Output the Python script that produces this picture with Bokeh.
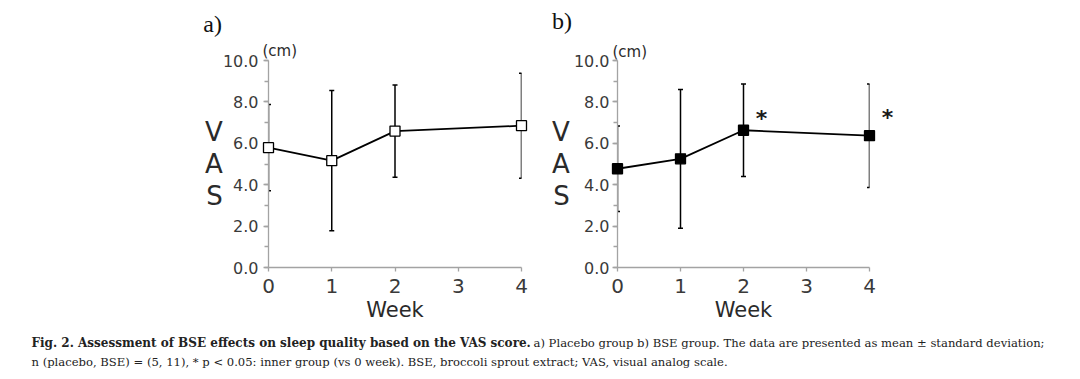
from bokeh.plotting import figure
from bokeh.layouts import column, row
from bokeh.models import (Range1d, FixedTicker, SingleIntervalTicker, NumeralTickFormatter,
                          Whisker, TeeHead, ColumnDataSource)
from bokeh.core.properties import value
from bokeh.embed import file_html
from bokeh.resources import INLINE

# ---- data ----
weeks = [0, 1, 2, 4]
x_ticks = [0, 1, 2, 3, 4]
placebo_mean = [5.79, 5.16, 6.59, 6.85]
placebo_sd = [2.08, 3.39, 2.23, 2.54]
bse_mean = [4.77, 5.25, 6.63, 6.37]
bse_sd = [2.07, 3.35, 2.23, 2.50]
bse_sig_weeks = [2, 4]

caption_bold = "Fig. 2.  Assessment of BSE effects on sleep quality based on the VAS score."
caption_rest = "a) Placebo group b) BSE group. The data are presented as mean \u00b1 standard deviation;"
caption_line2 = ("n (placebo, BSE) = (5, 11), * p < 0.05: inner group (vs 0 week). "
                 "BSE, broccoli sprout extract; VAS, visual analog scale.")

AXIS_GRAY = "#a3a3a3"
TEXT_GRAY = "#3a3a3a"


def panel(tag, mean, sd, filled, width, height, mb_left, mb_right, mb_top, mb_bottom,
          tick_standoff, label_standoff, tag_xy, cm_off, sig=None):
    p = figure(width=width, height=height, x_range=Range1d(0, 4), y_range=Range1d(0, 10),
               output_backend="svg", toolbar_location=None)
    p.min_border_left = mb_left
    p.min_border_right = mb_right
    p.min_border_top = mb_top
    p.min_border_bottom = mb_bottom
    p.grid.visible = False
    p.outline_line_color = None
    p.background_fill_color = "white"
    p.border_fill_color = "white"

    # x axis
    xa = p.xaxis[0]
    xa.ticker = FixedTicker(ticks=x_ticks)
    xa.axis_line_color = AXIS_GRAY
    xa.axis_line_width = 1.3
    xa.major_tick_line_color = AXIS_GRAY
    xa.major_tick_line_width = 1.3
    xa.major_tick_in = 0
    xa.major_tick_out = 4
    xa.minor_tick_line_color = None
    xa.major_label_text_font = "DejaVu Sans"
    xa.major_label_text_font_size = "20px"
    xa.major_label_text_color = TEXT_GRAY
    xa.major_label_standoff = 7
    xa.axis_label = "Week"
    xa.axis_label_text_font = "DejaVu Sans"
    xa.axis_label_text_font_size = "21px"
    xa.axis_label_text_font_style = "normal"
    xa.axis_label_text_color = "#2a2a2a"
    xa.axis_label_standoff = 2

    # y axis
    ya = p.yaxis[0]
    ya.ticker = SingleIntervalTicker(interval=2, num_minor_ticks=2)
    ya.formatter = NumeralTickFormatter(format="0.0")
    ya.axis_line_color = AXIS_GRAY
    ya.axis_line_width = 1.3
    ya.major_tick_line_color = AXIS_GRAY
    ya.major_tick_line_width = 1.3
    ya.minor_tick_line_color = AXIS_GRAY
    ya.minor_tick_line_width = 1.3
    ya.major_tick_in = 0
    ya.major_tick_out = 5
    ya.minor_tick_in = 0
    ya.minor_tick_out = 4
    ya.major_label_text_font = "DejaVu Sans"
    ya.major_label_text_font_size = "16px"
    ya.major_label_text_color = TEXT_GRAY
    ya.major_label_standoff = tick_standoff
    ya.axis_label = "V\nA\nS"
    ya.axis_label_orientation = "horizontal"
    ya.axis_label_text_font = "DejaVu Sans"
    ya.axis_label_text_font_size = "26px"
    ya.axis_label_text_font_style = "normal"
    ya.axis_label_text_color = "#2a2a2a"
    ya.axis_label_standoff = label_standoff
    ya.axis_label_text_line_height = 1.07

    upper = [m + s for m, s in zip(mean, sd)]
    lower = [m - s for m, s in zip(mean, sd)]
    src = ColumnDataSource(dict(x=weeks, y=mean, upper=upper, lower=lower))

    w = Whisker(base="x", upper="upper", lower="lower", source=src, dimension="height",
                line_color="black", line_width=1.5,
                upper_head=TeeHead(size=5, line_color="black", line_width=1.5),
                lower_head=TeeHead(size=5, line_color="black", line_width=1.5))
    p.add_layout(w)

    p.line("x", "y", source=src, line_color="black", line_width=1.8, level="overlay")
    p.scatter("x", "y", source=src, marker="square", size=10,
              fill_color="black" if filled else "white",
              line_color="black", line_width=1.3, level="overlay")

    if sig:
        sx = [wk for wk in sig]
        sy = [upper[weeks.index(wk)] for wk in sig]
        p.text(x=sx, y=sy, text=["*"] * len(sx), text_font=value("DejaVu Sans"),
               text_font_size="22px", text_font_style="bold", text_color="#1a1a1a",
               text_align="center", text_baseline="alphabetic",
               x_offset=18, y_offset=34, level="overlay")

    # panel tag and unit, drawn as text glyphs so they are not clipped to the frame
    p.text(x=[tag_xy[0]], y=[tag_xy[1]], text=[tag], text_font=value("Liberation Serif"),
           text_font_size="24px", text_color="#111111", text_baseline="alphabetic",
           text_align="left", level="overlay")
    p.text(x=[0], y=[10], x_offset=cm_off[0], y_offset=cm_off[1], text=["(cm)"],
           text_font=value("DejaVu Sans"), text_font_size="15px", text_color="#2a2a2a",
           text_baseline="alphabetic", text_align="left", level="overlay")
    return p


TOP_H = 335
pa = panel("a)", placebo_mean, placebo_sd, False, 538, TOP_H, 268, 17, 60, 68,
           5, -3, (-1.03, 11.74), (-6, -10))
pb = panel("b)", bse_mean, bse_sd, True, 534, TOP_H, 79, 203, 57, 68,
           3, 1, (-1.04, 11.92), (-5, -9), sig=bse_sig_weeks)

# caption
CAP_H = 42
pc = figure(width=1072, height=CAP_H, x_range=Range1d(0, 1072), y_range=Range1d(CAP_H, 0),
            output_backend="svg", toolbar_location=None)
pc.min_border = 0
pc.axis.visible = False
pc.grid.visible = False
pc.outline_line_color = None
pc.text(x=[31], y=[7], text=[caption_bold], text_font=value("DejaVu Serif"),
        text_font_size="12px", text_font_style="bold", text_color="#222222",
        text_baseline="middle")
pc.text(x=[533], y=[7], text=[caption_rest], text_font=value("DejaVu Serif"),
        text_font_size="11.6px", text_color="#222222", text_baseline="middle")
pc.text(x=[31], y=[26], text=[caption_line2], text_font=value("DejaVu Serif"),
        text_font_size="11.6px", text_color="#222222", text_baseline="middle")

layout = column(row(pa, pb), pc)
open("out.html", "w").write(file_html(layout, INLINE))
